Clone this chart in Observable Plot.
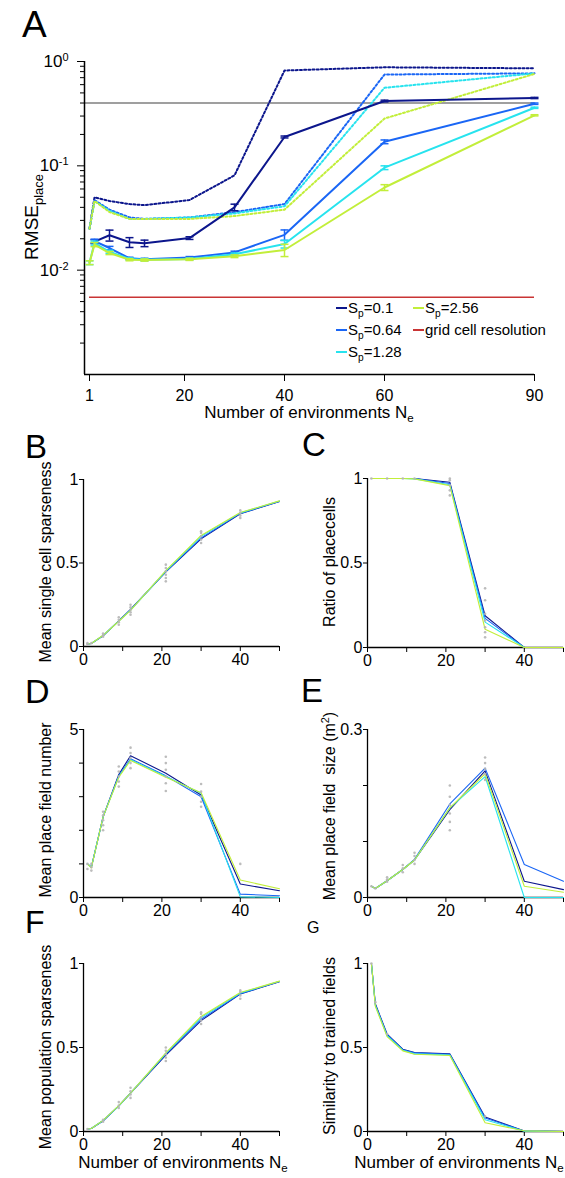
<!DOCTYPE html>
<html><head><meta charset="utf-8">
<script src="https://cdn.jsdelivr.net/npm/d3@7"></script>
<script src="https://cdn.jsdelivr.net/npm/@observablehq/plot@0.6"></script>
<style>
body{margin:0;background:#fff;}
#root{position:relative;width:565px;height:1178px;overflow:hidden;font-family:"Liberation Sans",Arial,Helvetica,sans-serif;}
#root svg{position:absolute;overflow:visible;}
</style></head><body><div id="root"></div>
<script>
// ---------- data ----------
const spLabels = ["0.1", "0.64", "1.28", "2.56"];
const spColors = ["#0c168c", "#1a66f5", "#27e3ee", "#c2ee3a"];

// Panel A: RMSE_place vs number of environments (solid: with error bars, dotted: second condition)
const neA = [1, 2, 5, 9, 12, 21, 30, 40, 60, 90];
const rmseSolid01  = [null, 0.0188, 0.0216, 0.0185, 0.0181, 0.0203, 0.040, 0.189, 0.418, 0.447];
const rmseSolid064 = [null, 0.0190, 0.0163, 0.0130, 0.0127, 0.0132, 0.0148, 0.0218, 0.170, 0.394];
const rmseSolid128 = [0.0118, 0.0182, 0.0150, 0.0128, 0.0126, 0.0128, 0.0142, 0.0178, 0.096, 0.360];
const rmseSolid256 = [0.0118, 0.0176, 0.0146, 0.0126, 0.0125, 0.0127, 0.0136, 0.0156, 0.062, 0.305];
const rmseErr01  = [null, 0.0008, 0.0026, 0.0020, 0.0013, 0.0006, 0.0029, 0.004, 0.008, 0.006];
const rmseErr064 = [null, 0.0008, 0.0006, 0.0003, 0.0003, 0.0003, 0.0004, 0.0025, 0.007, 0.006];
const rmseErr128 = [0.0005, 0.0008, 0.0005, 0.0003, 0.0003, 0.0003, 0.0004, 0.0015, 0.004, 0.005];
const rmseErr256 = [0.0005, 0.0008, 0.0005, 0.0003, 0.0003, 0.0003, 0.0004, 0.0021, 0.004, 0.004];
const rmseDot01  = [0.025, 0.050, 0.046, 0.043, 0.042, 0.047, 0.081, 0.82, 0.88, 0.86];
const rmseDot064 = [0.025, 0.047, 0.038, 0.032, 0.031, 0.032, 0.036, 0.043, 0.75, 0.77];
const rmseDot128 = [0.025, 0.046, 0.037, 0.031, 0.031, 0.032, 0.035, 0.041, 0.56, 0.77];
const rmseDot256 = [0.025, 0.046, 0.036, 0.031, 0.031, 0.031, 0.033, 0.038, 0.284, 0.76];
const rmseThreshold = 0.4;
const gridCellResolution = 0.0055;
const xTicksA = [1, 20, 40, 60, 90];
const yMajorA = [0.001, 0.01, 0.1, 1];
const yMinorA = [0.002,0.003,0.004,0.005,0.006,0.007,0.008,0.009,0.02,0.03,0.04,0.05,0.06,0.07,0.08,0.09,0.2,0.3,0.4,0.5,0.6,0.7,0.8,0.9];

// Panels B-G
const neB = [1, 2, 5, 9, 12, 21, 30, 40, 50];
const sparseCell01  = [0.015, 0.018, 0.064, 0.154, 0.222, 0.447, 0.645, 0.795, 0.868];
const sparseCell064 = [0.015, 0.018, 0.065, 0.153, 0.220, 0.449, 0.650, 0.797, 0.869];
const sparseCell128 = [0.015, 0.018, 0.066, 0.152, 0.218, 0.452, 0.660, 0.800, 0.871];
const sparseCell256 = [0.015, 0.018, 0.067, 0.151, 0.216, 0.454, 0.665, 0.802, 0.872];
const placeRatio01  = [1, 1, 1, 1, 1, 0.978, 0.188, 0, 0];
const placeRatio064 = [1, 1, 1, 1, 1, 0.970, 0.172, 0, 0];
const placeRatio128 = [1, 1, 1, 1, 0.998, 0.963, 0.150, 0, 0];
const placeRatio256 = [1, 1, 1, 1, 0.998, 0.958, 0.108, 0, 0];
const fieldNum01  = [1.0, 0.90, 2.40, 3.66, 4.22, 3.70, 3.05, 0.40, 0.20];
const fieldNum064 = [1.0, 0.90, 2.40, 3.62, 4.13, 3.62, 3.00, 0.10, 0.05];
const fieldNum128 = [1.0, 0.90, 2.40, 3.60, 4.10, 3.60, 3.10, 0.02, 0.00];
const fieldNum256 = [1.0, 0.88, 2.40, 3.58, 4.08, 3.58, 3.12, 0.52, 0.26];
const fieldSize01  = [0.020, 0.016, 0.030, 0.050, 0.067, 0.157, 0.226, 0.029, 0.014];
const fieldSize064 = [0.020, 0.016, 0.030, 0.050, 0.068, 0.167, 0.231, 0.059, 0.029];
const fieldSize128 = [0.020, 0.016, 0.030, 0.050, 0.067, 0.160, 0.216, 0.000, 0.000];
const fieldSize256 = [0.020, 0.016, 0.030, 0.050, 0.067, 0.160, 0.221, 0.020, 0.0095];
const popSparse01  = [0.015, 0.018, 0.064, 0.152, 0.228, 0.455, 0.660, 0.818, 0.892];
const popSparse064 = [0.015, 0.018, 0.064, 0.152, 0.228, 0.460, 0.668, 0.820, 0.893];
const popSparse128 = [0.015, 0.018, 0.065, 0.153, 0.228, 0.465, 0.678, 0.824, 0.894];
const popSparse256 = [0.015, 0.018, 0.066, 0.154, 0.228, 0.468, 0.685, 0.827, 0.895];
const similarity01  = [1.0, 0.760, 0.580, 0.490, 0.470, 0.462, 0.086, 0.003, 0];
const similarity064 = [1.0, 0.755, 0.575, 0.487, 0.468, 0.460, 0.080, 0.003, 0];
const similarity128 = [1.0, 0.750, 0.570, 0.484, 0.462, 0.455, 0.070, 0.002, 0];
const similarity256 = [1.0, 0.745, 0.565, 0.480, 0.460, 0.452, 0.052, 0.004, 0];

// individual runs (gray dots): [Ne, value]
const runsB = [[1,0.014],[1,0.02],[2,0.02],[5,0.058],[5,0.068],[5,0.078],[9,0.13],[9,0.145],[9,0.16],[9,0.175],[12,0.19],[12,0.205],[12,0.22],[12,0.235],[12,0.25],[21,0.39],[21,0.41],[21,0.43],[21,0.45],[21,0.47],[21,0.49],[30,0.62],[30,0.64],[30,0.66],[30,0.68],[30,0.69],[40,0.77],[40,0.785],[40,0.80],[40,0.815]];
const runsC = [[1,1],[5,1],[9,1],[12,1],[21,0.9],[21,0.93],[21,0.96],[21,0.99],[21,1.0],[30,0.06],[30,0.09],[30,0.12],[30,0.16],[30,0.2],[30,0.28],[30,0.35]];
const runsD = [[1,1.0],[1,0.85],[2,0.8],[2,0.9],[2,1.0],[5,2.0],[5,2.15],[5,2.3],[5,2.45],[5,2.55],[9,3.3],[9,3.45],[9,3.6],[9,3.75],[9,3.9],[12,3.85],[12,4.0],[12,4.15],[12,4.3],[12,4.46],[21,3.17],[21,3.4],[21,3.6],[21,3.8],[21,4.0],[21,4.19],[30,2.7],[30,2.85],[30,3.0],[30,3.15],[30,3.38],[40,1.0]];
const runsE = [[1,0.02],[2,0.016],[5,0.028],[5,0.032],[5,0.036],[9,0.045],[9,0.052],[9,0.058],[12,0.06],[12,0.067],[12,0.074],[12,0.08],[21,0.12],[21,0.135],[21,0.15],[21,0.165],[21,0.18],[21,0.2],[30,0.21],[30,0.22],[30,0.23],[30,0.24],[30,0.25]];
const runsF = [[1,0.015],[5,0.058],[5,0.07],[9,0.14],[9,0.155],[9,0.175],[12,0.2],[12,0.22],[12,0.24],[12,0.26],[21,0.42],[21,0.44],[21,0.46],[21,0.48],[21,0.5],[30,0.64],[30,0.66],[30,0.68],[30,0.7],[30,0.71],[40,0.79],[40,0.81],[40,0.83],[40,0.84]];
const runsG = [[1,1.0],[2,0.77],[5,0.58],[30,0.09]];

// ---------- drawing ----------
const FONT = '"Liberation Sans", Arial, Helvetica, sans-serif';
const root = document.getElementById("root");
const NS = "http://www.w3.org/2000/svg";
function place(svg, left, top) { svg.style.left = left + "px"; svg.style.top = top + "px"; root.appendChild(svg); }
const baseStyle = {fontFamily: FONT, fontSize: "16px", color: "#000", background: "none", overflow: "visible"};

// cap symbol for error bars
const capSymbol = {draw(ctx, size) { const r = Math.sqrt(size / Math.PI); ctx.moveTo(-r, 0); ctx.lineTo(r, 0); }};

// ----- Panel A -----
{
  const left = 0, top = 0, W = 565, H = 430;
  const fx0 = 84, fx1 = 534, fy0 = 61, fy1 = 374;
  const solid = [rmseSolid01, rmseSolid064, rmseSolid128, rmseSolid256];
  const errs = [rmseErr01, rmseErr064, rmseErr128, rmseErr256];
  const dotted = [rmseDot01, rmseDot064, rmseDot128, rmseDot256];
  const marks = [
    Plot.ruleY([rmseThreshold], {x1: 0, x2: 90, stroke: "#7f7f7f", strokeWidth: 1.5}),
    Plot.ruleY([gridCellResolution], {x1: 1, x2: 90, stroke: "#c93434", strokeWidth: 1.5}),
    Plot.ruleX([0], {y1: 0.001, y2: 1, stroke: "#000", strokeWidth: 1.5}),
    Plot.ruleY([0.001], {x1: 0, x2: 90, stroke: "#000", strokeWidth: 1.5}),
    Plot.axisX({ticks: xTicksA, tickSize: 7, tickPadding: 8, label: null, fontSize: 16}),
    Plot.axisY({ticks: yMajorA.filter(d => d > 0.001), tickSize: 7, tickPadding: 9, label: null, fontSize: 17,
      tickFormat: d => "10^" + Math.round(Math.log10(d))}),
    Plot.axisY({ticks: yMinorA, tickSize: 4, tickFormat: () => "", label: null})
  ];
  dotted.forEach((vals, i) => {
    const rows = neA.map((n, j) => ({ne: n, v: vals[j]})).filter(d => d.v != null);
    marks.push(Plot.line(rows, {x: "ne", y: "v", stroke: spColors[i], strokeWidth: 2, strokeDasharray: "2,2.2"}));
  });
  solid.forEach((vals, i) => {
    const rows = neA.map((n, j) => ({ne: n, v: vals[j], e: errs[i][j]})).filter(d => d.v != null);
    marks.push(Plot.line(rows, {x: "ne", y: "v", stroke: spColors[i], strokeWidth: 2}));
    marks.push(Plot.ruleX(rows, {x: "ne", y1: d => d.v - d.e, y2: d => d.v + d.e, stroke: spColors[i], strokeWidth: 1.5}));
    const caps = rows.flatMap(d => [{ne: d.ne, v: d.v - d.e}, {ne: d.ne, v: d.v + d.e}]);
    marks.push(Plot.dot(caps, {x: "ne", y: "v", symbol: capSymbol, r: 4, stroke: spColors[i], strokeWidth: 1.5, fill: "none"}));
  });
  const svg = Plot.plot({
    width: W, height: H,
    marginLeft: fx0 - left, marginRight: left + W - fx1, marginTop: fy0 - top, marginBottom: top + H - fy1,
    x: {domain: [0, 90]},
    y: {type: "log", domain: [0.001, 1]},
    style: baseStyle,
    marks
  });
  svg.querySelectorAll("text").forEach(t => {
    const s = t.textContent;
    if (s.includes("^")) {
      const [b, e] = s.split("^");
      t.textContent = "";
      const t1 = document.createElementNS(NS, "tspan"); t1.textContent = b;
      const t2 = document.createElementNS(NS, "tspan"); t2.textContent = e;
      t2.setAttribute("dy", "-0.55em"); t2.setAttribute("font-size", "11px");
      t.append(t1, t2);
    }
  });
  place(svg, left, top);
}

// ----- small panels -----
function smallPanel({left, top, W, H, fx0, fx1, fy0, fy1, yDomain, yTicks, yLabelTicks, series, runs}) {
  const marks = [
    Plot.ruleX([0], {y1: yDomain[0], y2: yDomain[1], stroke: "#000", strokeWidth: 1.3}),
    Plot.ruleY([yDomain[0]], {x1: 0, x2: 50, stroke: "#000", strokeWidth: 1.3}),
    Plot.axisX({ticks: [0, 10, 20, 30, 40, 50], tickSize: 5, tickPadding: 2, label: null,
      tickFormat: d => (d === 0 || d === 20 || d === 40) ? String(d) : ""}),
    Plot.axisY({ticks: yTicks, tickSize: 4, tickPadding: 1, label: null,
      tickFormat: d => yLabelTicks.includes(d) ? String(d) : ""})
  ];
  series.forEach((vals, i) => {
    const rows = neB.map((n, j) => ({ne: n, v: vals[j]}));
    marks.push(Plot.line(rows, {x: "ne", y: "v", stroke: spColors[i], strokeWidth: 1.1}));
  });
  marks.push(Plot.dot(runs, {x: d => d[0], y: d => d[1], r: 1.3, fill: "#b5b5b5", fillOpacity: 0.9}));
  const svg = Plot.plot({
    width: W, height: H,
    marginLeft: fx0 - left, marginRight: left + W - fx1, marginTop: fy0 - top, marginBottom: top + H - fy1,
    x: {domain: [0, 50]},
    y: {domain: yDomain},
    style: baseStyle,
    marks
  });
  place(svg, left, top);
}

smallPanel({left: 0, top: 440, W: 283, H: 240, fx0: 83, fx1: 279, fy0: 479, fy1: 646,
  yDomain: [0, 1], yTicks: [0, 0.5, 1], yLabelTicks: [0, 0.5, 1],
  series: [sparseCell01, sparseCell064, sparseCell128, sparseCell256], runs: runsB});
smallPanel({left: 283, top: 440, W: 282, H: 240, fx0: 367, fx1: 563, fy0: 478, fy1: 647,
  yDomain: [0, 1], yTicks: [0, 0.5, 1], yLabelTicks: [0, 0.5, 1],
  series: [placeRatio01, placeRatio064, placeRatio128, placeRatio256], runs: runsC});
smallPanel({left: 0, top: 700, W: 283, H: 225, fx0: 83, fx1: 279, fy0: 729, fy1: 897,
  yDomain: [0, 5], yTicks: [0, 1, 2, 3, 4, 5], yLabelTicks: [0, 5],
  series: [fieldNum01, fieldNum064, fieldNum128, fieldNum256], runs: runsD});
smallPanel({left: 283, top: 700, W: 282, H: 225, fx0: 367, fx1: 563, fy0: 729, fy1: 897,
  yDomain: [0, 0.3], yTicks: [0, 0.1, 0.2, 0.3], yLabelTicks: [0, 0.3],
  series: [fieldSize01, fieldSize064, fieldSize128, fieldSize256], runs: runsE});
smallPanel({left: 0, top: 935, W: 283, H: 225, fx0: 83, fx1: 279, fy0: 963, fy1: 1131,
  yDomain: [0, 1], yTicks: [0, 0.5, 1], yLabelTicks: [0, 0.5, 1],
  series: [popSparse01, popSparse064, popSparse128, popSparse256], runs: runsF});
smallPanel({left: 283, top: 935, W: 282, H: 225, fx0: 367, fx1: 563, fy0: 963, fy1: 1131,
  yDomain: [0, 1], yTicks: [0, 0.5, 1], yLabelTicks: [0, 0.5, 1],
  series: [similarity01, similarity064, similarity128, similarity256], runs: runsG});

// ----- overlay text -----
const ov = d3.select(root).append("svg").attr("width", 565).attr("height", 1178)
  .style("left", "0px").style("top", "0px").style("pointer-events", "none")
  .attr("font-family", FONT).attr("fill", "#000");

const letters = [["A", 22, 37, 37], ["B", 25, 458, 33], ["C", 302, 456, 33], ["D", 25, 703, 34],
  ["E", 301, 702, 33], ["F", 25, 933, 32], ["G", 307, 933, 16]];
letters.forEach(([t, x, y, s]) => ov.append("text").attr("x", x).attr("y", y).attr("font-size", s).text(t));

function richText(g, parts, size) {
  parts.forEach(([txt, kind]) => {
    const ts = g.append("tspan").text(txt);
    if (kind === "sub") ts.attr("font-size", size * 0.68).attr("dy", "0.38em");
    else if (kind === "sup") ts.attr("font-size", size * 0.68).attr("dy", "-0.55em");
    else if (kind === "afterSub") ts.attr("dy", "-0.26em");
    else if (kind === "afterSup") ts.attr("dy", "0.37em");
  });
}

// y-axis titles (rotated)
function yTitle(x, y, parts, size) {
  const t = ov.append("text").attr("transform", `translate(${x},${y}) rotate(-90)`)
    .attr("text-anchor", "middle").attr("font-size", size).style("white-space", "pre");
  richText(t, parts, size);
}
yTitle(38, 217, [["RMSE"], ["place", "sub"]], 19);
yTitle(51, 562, [["Mean single cell sparseness"]], 16);
yTitle(335, 562, [["Ratio of placecells"]], 16);
yTitle(51, 810, [["Mean place field number"]], 16);
yTitle(335, 806, [["Mean place field  size (m"], ["2", "sup"], [")", "afterSup"]], 16);
yTitle(51, 1047, [["Mean population sparseness"]], 16);
yTitle(335, 1046, [["Similarity to trained fields"]], 16);

// x-axis titles
function xTitle(x, y, size) {
  const t = ov.append("text").attr("x", x).attr("y", y).attr("text-anchor", "middle").attr("font-size", size);
  richText(t, [["Number of environments N"], ["e", "sub"]], size);
}
xTitle(309, 418, 17);
xTitle(183, 1168, 17);
xTitle(459, 1168, 17);

// legend of panel A
const legendItems = [
  {label: [["S"], ["p", "sub"], ["=" + spLabels[0], "afterSub"]], color: spColors[0], x: 336, y: 313},
  {label: [["S"], ["p", "sub"], ["=" + spLabels[1], "afterSub"]], color: spColors[1], x: 336, y: 335},
  {label: [["S"], ["p", "sub"], ["=" + spLabels[2], "afterSub"]], color: spColors[2], x: 336, y: 357},
  {label: [["S"], ["p", "sub"], ["=" + spLabels[3], "afterSub"]], color: spColors[3], x: 413, y: 313},
  {label: [["grid cell resolution"]], color: "#c93434", x: 413, y: 335}
];
legendItems.forEach(it => {
  ov.append("line").attr("x1", it.x).attr("x2", it.x + 11).attr("y1", it.y - 5).attr("y2", it.y - 5)
    .attr("stroke", it.color).attr("stroke-width", 2);
  const t = ov.append("text").attr("x", it.x + 12).attr("y", it.y).attr("font-size", 15);
  richText(t, it.label, 15);
});
</script></body></html>
